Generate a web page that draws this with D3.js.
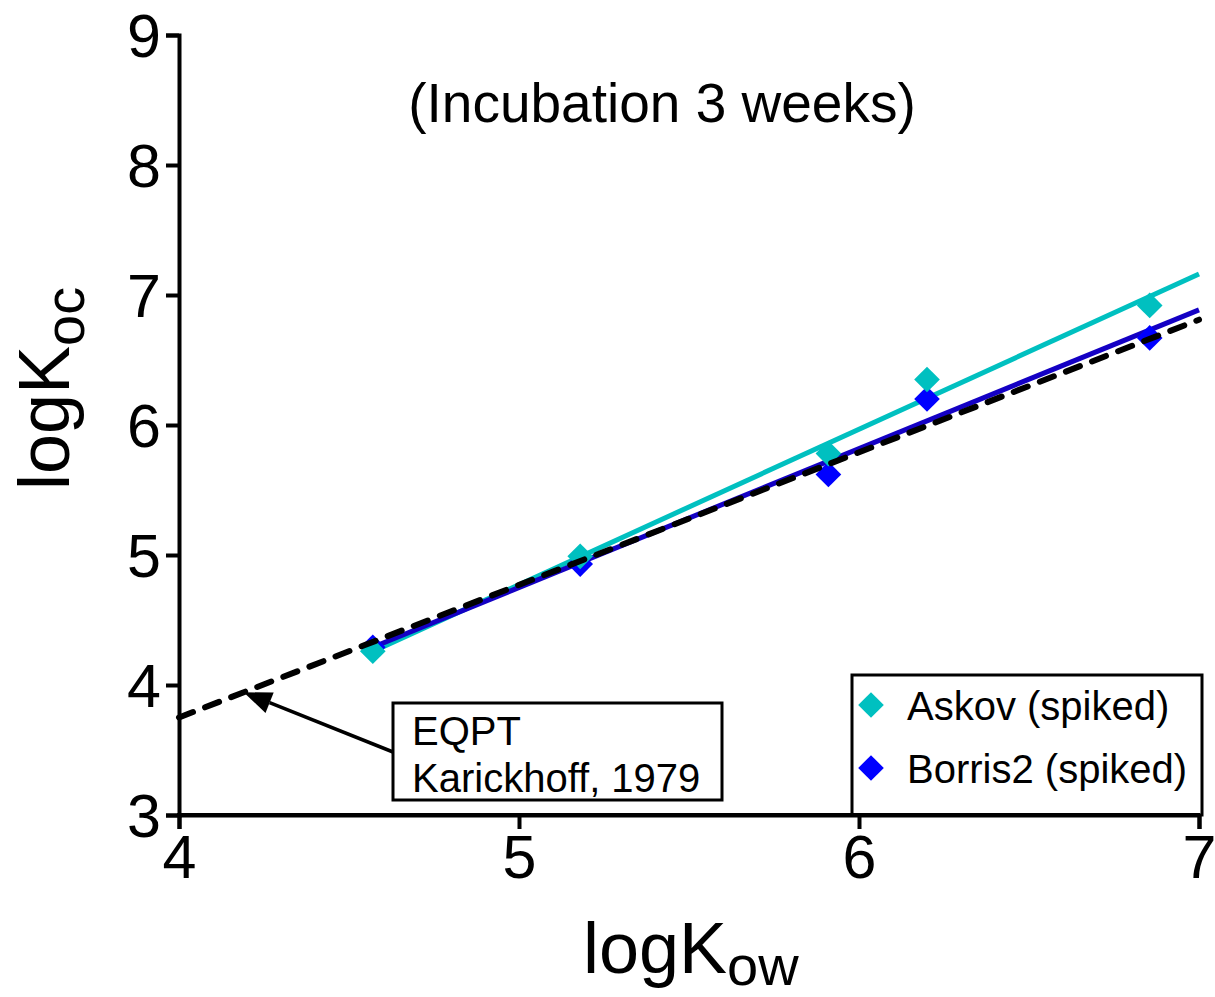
<!DOCTYPE html>
<html>
<head>
<meta charset="utf-8">
<script src="https://cdn.jsdelivr.net/npm/d3@7"></script>
<style>
  body { margin: 0; background: #fff; }
  text { font-family: "Liberation Sans", Arial, sans-serif; fill: #000; }
</style>
</head>
<body>
<div id="chart"></div>
<script>
// data
const logKow = [4.57, 5.18, 5.91, 6.20, 6.855];
const askov = [4.26, 4.99, 5.78, 6.35, 6.92];
const borris2 = [4.29, 4.93, 5.62, 6.20, 6.67];

// fitted lines: [slope, intercept]
const askovFit = [1.195, -1.203];
const borrisFit = [1.068, -0.59];
// EQPT (Karickhoff, 1979) line end values at x = 4 and x = 7
const eqptX = [4, 7];
const eqptY = [3.75, 6.81];

const xTicks = [4, 5, 6, 7];
const yTicks = [3, 4, 5, 6, 7, 8, 9];

const width = 1215, height = 997;
const mLeft = 179, mRight = 1199, mTop = 35, mBottom = 815;

const svg = d3.select("#chart").append("svg")
    .attr("width", width)
    .attr("height", height);

const x = d3.scaleLinear().domain([4, 7]).range([mLeft, mRight]);
const y = d3.scaleLinear().domain([3, 9]).range([mBottom, mTop]);

// axes
const xAxis = svg.append("g")
    .attr("transform", `translate(0,${mBottom})`)
    .call(d3.axisBottom(x).tickValues(xTicks).tickSize(14).tickPadding(5).tickFormat(d3.format("d")));
const yAxis = svg.append("g")
    .attr("transform", `translate(${mLeft},0)`)
    .call(d3.axisLeft(y).tickValues(yTicks).tickSize(13).tickPadding(5).tickFormat(d3.format("d")));

[xAxis, yAxis].forEach(g => {
    g.select(".domain").attr("stroke", "#000").attr("stroke-width", 4);
    g.selectAll(".tick line").attr("stroke", "#000").attr("stroke-width", 4);
    g.selectAll(".tick text")
        .attr("font-family", "Liberation Sans, Arial, sans-serif")
        .attr("font-size", 61)
        .attr("fill", "#000");
});
yAxis.selectAll(".tick text").attr("dy", "0.36em");
xAxis.selectAll(".tick text").attr("dy", "0.72em");

// axis titles
const xTitle = svg.append("text")
    .attr("x", 583)
    .attr("y", 973)
    .attr("font-size", 72);
xTitle.append("tspan").text("logK");
xTitle.append("tspan").attr("font-size", 56).attr("dy", 12).text("ow");

const yTitle = svg.append("text")
    .attr("transform", "translate(69,490) rotate(-90)")
    .attr("font-size", 72);
yTitle.append("tspan").text("logK");
yTitle.append("tspan").attr("font-size", 56).attr("dy", 15).text("oc");

// title
svg.append("text")
    .attr("x", 662)
    .attr("y", 122)
    .attr("text-anchor", "middle")
    .attr("font-size", 55)
    .text("(Incubation 3 weeks)");

// fit lines
const fitLine = (fit, x0) => [[x0, fit[0] * x0 + fit[1]], [7, fit[0] * 7 + fit[1]]];
const line = d3.line().x(d => x(d[0])).y(d => y(d[1]));

svg.append("path")
    .attr("d", line(fitLine(askovFit, logKow[0])))
    .attr("stroke", "#00c0c0")
    .attr("stroke-width", 5)
    .attr("fill", "none");

svg.append("path")
    .attr("d", line(fitLine(borrisFit, logKow[0])))
    .attr("stroke", "#1400c4")
    .attr("stroke-width", 5)
    .attr("fill", "none");

// markers
const diamond = d3.symbol().type(d3.symbolDiamond2).size(420);

svg.selectAll(".borris")
    .data(logKow.map((k, i) => [k, borris2[i]]))
    .join("path")
    .attr("class", "borris")
    .attr("transform", d => `translate(${x(d[0])},${y(d[1])})`)
    .attr("d", diamond)
    .attr("fill", "#0000ff");

svg.selectAll(".askov")
    .data(logKow.map((k, i) => [k, askov[i]]))
    .join("path")
    .attr("class", "askov")
    .attr("transform", d => `translate(${x(d[0])},${y(d[1])})`)
    .attr("d", diamond)
    .attr("fill", "#00c0c0");

// EQPT dashed line
svg.append("path")
    .attr("d", line(eqptX.map((v, i) => [v, eqptY[i]])))
    .attr("stroke", "#000")
    .attr("stroke-width", 6)
    .attr("stroke-dasharray", "15 13")
    .attr("stroke-linecap", "round")
    .attr("fill", "none");

// annotation box + arrow
const tipX = 4.19;
const tipY = eqptY[0] + (eqptY[1] - eqptY[0]) / (eqptX[1] - eqptX[0]) * (tipX - eqptX[0]);
const tx = x(tipX), ty = y(tipY);
const tailX = 393, tailY = 752;
const ang = Math.atan2(tailY - ty, tailX - tx);
const headLen = 28, headHalf = 11;
const bx = tx + headLen * Math.cos(ang), by = ty + headLen * Math.sin(ang);

svg.append("line")
    .attr("x1", bx).attr("y1", by)
    .attr("x2", tailX).attr("y2", tailY)
    .attr("stroke", "#000")
    .attr("stroke-width", 3.5);

svg.append("polygon")
    .attr("points", [
        [tx, ty],
        [bx - headHalf * Math.sin(ang), by + headHalf * Math.cos(ang)],
        [bx + headHalf * Math.sin(ang), by - headHalf * Math.cos(ang)]
    ].map(p => p.join(",")).join(" "))
    .attr("fill", "#000");

svg.append("rect")
    .attr("x", 393).attr("y", 703)
    .attr("width", 329).attr("height", 97)
    .attr("fill", "#fff")
    .attr("stroke", "#000")
    .attr("stroke-width", 3);

svg.append("text").attr("x", 412).attr("y", 745).attr("font-size", 40).text("EQPT");
svg.append("text").attr("x", 412).attr("y", 792).attr("font-size", 40).text("Karickhoff, 1979");

// legend
const legendItems = [
    { name: "Askov (spiked)", color: "#00c0c0" },
    { name: "Borris2 (spiked)", color: "#0000ff" }
];

svg.append("rect")
    .attr("x", 852).attr("y", 675)
    .attr("width", 350).attr("height", 140)
    .attr("fill", "#fff")
    .attr("stroke", "#000")
    .attr("stroke-width", 3);

legendItems.forEach((item, i) => {
    const ly = 705 + i * 63;
    svg.append("path")
        .attr("transform", `translate(871,${ly})`)
        .attr("d", diamond)
        .attr("fill", item.color);
    svg.append("text")
        .attr("x", 907)
        .attr("y", ly + 15)
        .attr("font-size", 40)
        .text(item.name);
});

// redraw the x axis line over the legend box edge
svg.append("line")
    .attr("x1", mLeft - 2).attr("x2", mRight + 1)
    .attr("y1", mBottom).attr("y2", mBottom)
    .attr("stroke", "#000")
    .attr("stroke-width", 4);
</script>
</body>
</html>
